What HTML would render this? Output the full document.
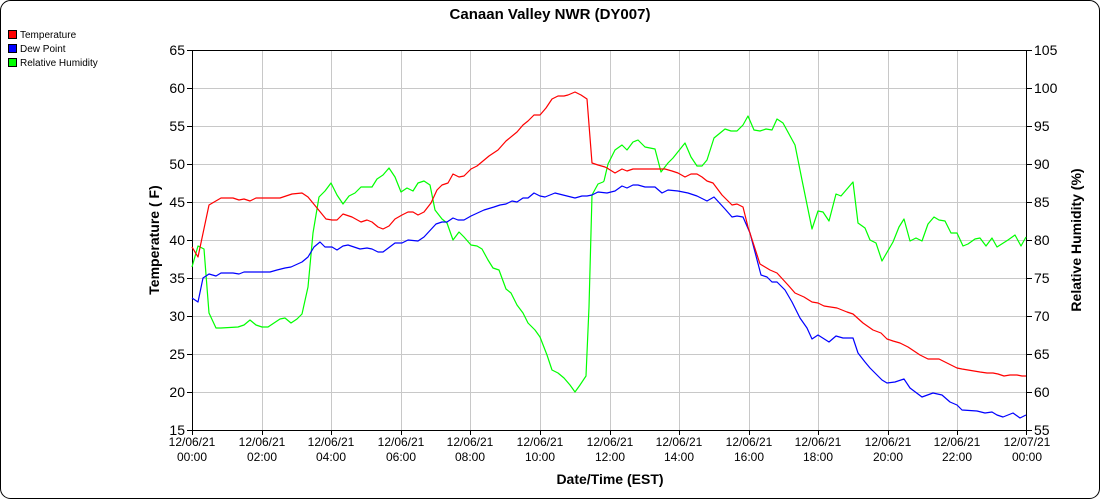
<!DOCTYPE html>
<html><head><meta charset="utf-8"><style>
html,body{margin:0;padding:0;background:#fff}
svg{display:block;font-family:"Liberation Sans",sans-serif}
</style></head><body>
<svg width="1100" height="500" viewBox="0 0 1100 500" xmlns="http://www.w3.org/2000/svg">
<rect x="0.5" y="0.5" width="1099" height="498" rx="10" fill="#fff" stroke="#000" stroke-width="1"/>
<text x="550" y="19" font-size="15" font-weight="bold" text-anchor="middle">Canaan Valley NWR (DY007)</text>
<g font-size="10">
<rect x="8.5" y="30.5" width="8" height="8" fill="#f00" stroke="#000"/><text x="20" y="38">Temperature</text>
<rect x="8.5" y="44.5" width="8" height="8" fill="#00f" stroke="#000"/><text x="20" y="52">Dew Point</text>
<rect x="8.5" y="58.5" width="8" height="8" fill="#0f0" stroke="#000"/><text x="20" y="66">Relative Humidity</text>
</g>
<g stroke="#c8c8c8" stroke-width="1">
<line x1="192" y1="88.5" x2="1027" y2="88.5"/><line x1="192" y1="126.5" x2="1027" y2="126.5"/><line x1="192" y1="164.5" x2="1027" y2="164.5"/><line x1="192" y1="202.5" x2="1027" y2="202.5"/><line x1="192" y1="240.5" x2="1027" y2="240.5"/><line x1="192" y1="278.5" x2="1027" y2="278.5"/><line x1="192" y1="316.5" x2="1027" y2="316.5"/><line x1="192" y1="354.5" x2="1027" y2="354.5"/><line x1="192" y1="392.5" x2="1027" y2="392.5"/>
<line x1="262.5" y1="50" x2="262.5" y2="430"/><line x1="331.5" y1="50" x2="331.5" y2="430"/><line x1="401.5" y1="50" x2="401.5" y2="430"/><line x1="470.5" y1="50" x2="470.5" y2="430"/><line x1="540.5" y1="50" x2="540.5" y2="430"/><line x1="610.5" y1="50" x2="610.5" y2="430"/><line x1="679.5" y1="50" x2="679.5" y2="430"/><line x1="749.5" y1="50" x2="749.5" y2="430"/><line x1="818.5" y1="50" x2="818.5" y2="430"/><line x1="888.5" y1="50" x2="888.5" y2="430"/><line x1="957.5" y1="50" x2="957.5" y2="430"/>
</g>
<g stroke="#000" stroke-width="1" fill="none">
<path d="M192.5 50.5H1026.5V430.5H192.5Z"/>
<path d="M187 50.5h5M187 88.5h5M187 126.5h5M187 164.5h5M187 202.5h5M187 240.5h5M187 278.5h5M187 316.5h5M187 354.5h5M187 392.5h5M187 430.5h5"/>
<path d="M1027 50.5h5M1027 88.5h5M1027 126.5h5M1027 164.5h5M1027 202.5h5M1027 240.5h5M1027 278.5h5M1027 316.5h5M1027 354.5h5M1027 392.5h5M1027 430.5h5"/>
<path d="M192.5 430v5M262.5 430v5M331.5 430v5M401.5 430v5M470.5 430v5M540.5 430v5M610.5 430v5M679.5 430v5M749.5 430v5M818.5 430v5M888.5 430v5M957.5 430v5M1026.5 430v5"/>
</g>
<g font-size="14" text-anchor="end">
<text x="185" y="55">65</text><text x="185" y="93">60</text><text x="185" y="131">55</text><text x="185" y="169">50</text><text x="185" y="207">45</text><text x="185" y="245">40</text><text x="185" y="283">35</text><text x="185" y="321">30</text><text x="185" y="359">25</text><text x="185" y="397">20</text><text x="185" y="435">15</text>
</g>
<g font-size="14" text-anchor="start">
<text x="1034" y="55">105</text><text x="1034" y="93">100</text><text x="1034" y="131">95</text><text x="1034" y="169">90</text><text x="1034" y="207">85</text><text x="1034" y="245">80</text><text x="1034" y="283">75</text><text x="1034" y="321">70</text><text x="1034" y="359">65</text><text x="1034" y="397">60</text><text x="1034" y="435">55</text>
</g>
<g font-size="12" text-anchor="middle">
<text x="192" y="446">12/06/21</text><text x="192" y="461">00:00</text>
<text x="262" y="446">12/06/21</text><text x="262" y="461">02:00</text>
<text x="331" y="446">12/06/21</text><text x="331" y="461">04:00</text>
<text x="401" y="446">12/06/21</text><text x="401" y="461">06:00</text>
<text x="470" y="446">12/06/21</text><text x="470" y="461">08:00</text>
<text x="540" y="446">12/06/21</text><text x="540" y="461">10:00</text>
<text x="610" y="446">12/06/21</text><text x="610" y="461">12:00</text>
<text x="679" y="446">12/06/21</text><text x="679" y="461">14:00</text>
<text x="749" y="446">12/06/21</text><text x="749" y="461">16:00</text>
<text x="818" y="446">12/06/21</text><text x="818" y="461">18:00</text>
<text x="888" y="446">12/06/21</text><text x="888" y="461">20:00</text>
<text x="957" y="446">12/06/21</text><text x="957" y="461">22:00</text>
<text x="1027" y="446">12/07/21</text><text x="1027" y="461">00:00</text>
</g>
<text x="610" y="484" font-size="14" font-weight="bold" text-anchor="middle">Date/Time (EST)</text>
<text transform="translate(159,240) rotate(-90)" font-size="14" font-weight="bold" text-anchor="middle">Temperature ( F)</text>
<text transform="translate(1081,240) rotate(-90)" font-size="14" font-weight="bold" text-anchor="middle">Relative Humidity (%)</text>
<g fill="none" stroke-width="1.2" stroke-linejoin="round">
<polyline stroke="#0f0" points="192,267 198,246 204,249 209,313 216,328 221,328 238,327 244,325 250,320 256,325 262,327 268,327 274,323 280,319 285,318 291,323 297,319 302,314 308,287 313,233 319,197 325,191 331,183 337,195 343,204 349,196 355,193 361,187 372,187 377,179 383,175 389,168 395,177 401,192 407,188 413,191 418,183 424,181 430,185 435,210 442,219 447,223 453,240 459,232 464,237 471,245 477,246 482,249 488,260 493,268 499,270 506,289 511,293 517,305 523,313 528,323 535,330 540,337 547,355 552,370 558,373 564,378 570,385 575,392 580,385 586,376 589,307 592,195 598,184 603,182 604,181 608,164 615,150 622,145 627,150 633,142 638,140 645,147 655,149 661,172 668,163 673,158 685,143 691,157 697,166 702,166 707,160 714,138 725,129 731,131 737,131 743,125 748,116 754,130 760,131 766,129 772,130 777,119 783,123 795,145 802,180 812,229 818,211 823,212 829,221 836,194 841,196 853,182 858,223 865,228 870,240 876,243 882,261 893,242 899,227 904,219 910,241 916,238 922,241 928,224 934,217 939,220 945,221 951,233 957,233 963,246 968,244 975,239 980,238 986,246 992,238 997,247 1008,240 1015,235 1021,246 1026,237"/>
<polyline stroke="#00f" points="192,298 198,302 203,278 209,274 216,276 221,273 233,273 239,274 244,272 270,272 277,270 285,268 291,267 302,262 308,257 314,247 320,242 325,247 332,247 337,250 343,246 348,245 360,249 367,248 372,249 378,252 383,252 395,243 402,243 408,240 418,241 424,237 436,224 442,222 447,222 453,218 458,220 464,220 471,216 484,210 494,207 500,205 506,204 512,201 517,202 523,198 528,198 534,193 540,196 545,197 555,193 563,195 575,198 582,196 587,196 592,195 598,192 607,193 615,191 622,186 627,188 633,185 638,185 645,187 655,187 662,193 668,190 678,191 688,193 697,196 707,201 714,197 725,209 732,217 737,216 743,217 750,233 761,275 767,277 772,282 777,282 785,290 792,302 800,318 807,328 812,339 818,335 829,342 836,336 843,338 853,338 858,353 865,362 870,368 875,373 882,380 887,383 895,382 904,379 910,388 922,397 933,393 942,395 950,402 957,405 962,410 977,411 985,413 992,412 997,415 1003,417 1013,413 1020,418 1026,415"/>
<polyline stroke="#f00" points="192,247 198,257 209,205 221,198 233,198 239,200 244,199 250,201 256,198 280,198 292,194 302,193 308,197 317,208 326,219 332,220 337,220 343,214 352,217 361,222 367,220 372,222 378,227 383,229 389,226 395,219 402,215 408,212 413,212 418,215 424,212 431,203 437,190 442,185 448,183 453,174 459,177 464,176 471,169 477,166 483,161 489,156 498,150 506,141 517,132 523,125 528,121 534,115 540,115 546,108 552,99 558,96 564,96 568,95 575,92 581,95 587,99 592,163 598,165 605,167 607,168 615,173 622,169 627,171 633,169 665,169 672,171 678,173 685,177 691,174 697,174 702,177 707,181 713,183 722,195 732,205 737,204 743,207 748,227 760,264 770,270 777,273 788,285 795,293 804,297 812,302 818,303 824,306 837,308 847,312 853,314 863,323 873,330 881,333 887,339 893,341 900,343 908,347 920,355 928,359 939,359 947,363 957,368 962,369 968,370 980,372 987,373 993,373 998,374 1004,376 1010,375 1017,375 1022,376 1026,376"/>
</g>
</svg>
</body></html>
